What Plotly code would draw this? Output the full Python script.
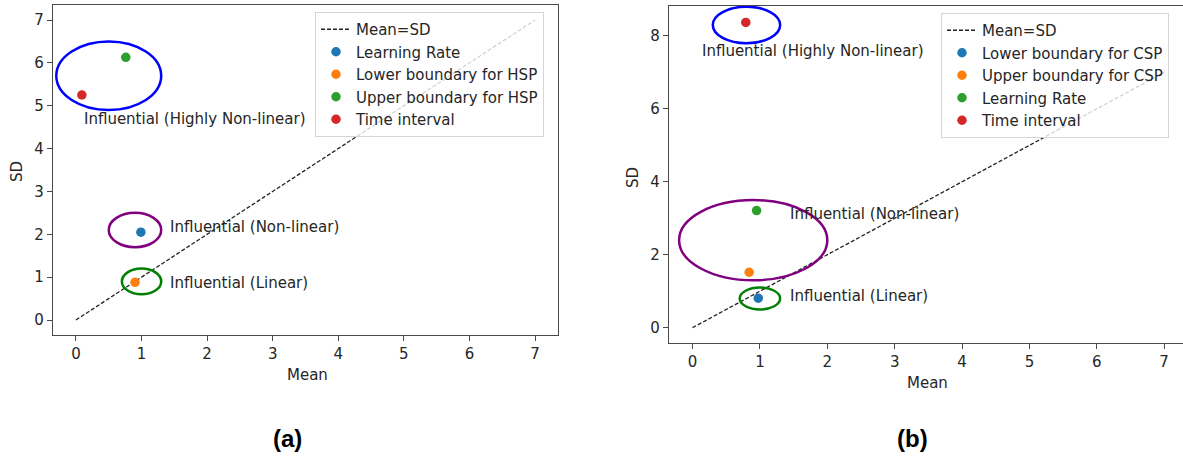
import plotly.graph_objects as go

# ---------------- data ----------------
a_series = ["Learning Rate", "Lower boundary for HSP", "Upper boundary for HSP", "Time interval"]
a_mean = [0.99, 0.90, 0.76, 0.09]
a_sd = [2.05, 0.88, 6.13, 5.25]

b_series = ["Lower boundary for CSP", "Upper boundary for CSP", "Learning Rate", "Time interval"]
b_mean = [0.975, 0.84, 0.95, 0.79]
b_sd = [0.81, 1.52, 3.21, 8.37]

series_colors = ["#1f77b4", "#ff7f0e", "#2ca02c", "#d62728"]

ref_line = [0, 7]  # Mean = SD line

# groupings (center x, center y, width, height)
a_groups_cx = [0.5, 0.9, 1.0]
a_groups_cy = [5.7, 2.1, 0.9]
a_groups_w = [1.6, 0.8, 0.6]
a_groups_h = [1.6, 0.8, 0.6]
b_groups_cx = [0.8, 0.9, 1.0]
b_groups_cy = [8.3, 2.4, 0.8]
b_groups_w = [1.0, 2.2, 0.6]
b_groups_h = [1.0, 2.2, 0.6]
group_colors = ["blue", "purple", "green"]

group_labels = ["Influential (Highly Non-linear)", "Influential (Non-linear)", "Influential (Linear)"]
a_label_x = [0.095, 1.41, 1.41]
a_label_y = [4.68, 2.16, 0.86]
b_label_x = [0.11, 1.41, 1.41]
b_label_y = [7.6, 3.11, 0.87]

FONT = "DejaVu Sans"
TXT = "#262626"
FS = 15

fig = go.Figure()

# ---- panel (a) ----
fig.add_trace(go.Scatter(x=ref_line, y=ref_line, mode="lines", name="Mean=SD",
                         line=dict(color="#222222", width=1.3, dash="4px,2px"),
                         xaxis="x", yaxis="y", legend="legend", legendgroup="a0"))
for i, (n, m, s) in enumerate(zip(a_series, a_mean, a_sd)):
    fig.add_trace(go.Scatter(x=[m], y=[s], mode="markers", name=n,
                             marker=dict(color=series_colors[i], size=9.5),
                             xaxis="x", yaxis="y", legend="legend", legendgroup="a%d" % (i + 1)))

# ---- panel (b) ----
fig.add_trace(go.Scatter(x=ref_line, y=ref_line, mode="lines", name="Mean=SD",
                         line=dict(color="#222222", width=1.3, dash="4px,2px"),
                         xaxis="x2", yaxis="y2", legend="legend2", legendgroup="b0"))
for i, (n, m, s) in enumerate(zip(b_series, b_mean, b_sd)):
    fig.add_trace(go.Scatter(x=[m], y=[s], mode="markers", name=n,
                             marker=dict(color=series_colors[i], size=9.5),
                             xaxis="x2", yaxis="y2", legend="legend2", legendgroup="b%d" % (i + 1)))

shapes = []
for cx, cy, w, h, c in zip(a_groups_cx, a_groups_cy, a_groups_w, a_groups_h, group_colors):
    shapes.append(dict(type="circle", xref="x", yref="y", x0=cx - w / 2, x1=cx + w / 2,
                       y0=cy - h / 2, y1=cy + h / 2, line=dict(color=c, width=2.5)))
for cx, cy, w, h, c in zip(b_groups_cx, b_groups_cy, b_groups_w, b_groups_h, group_colors):
    shapes.append(dict(type="circle", xref="x2", yref="y2", x0=cx - w / 2, x1=cx + w / 2,
                       y0=cy - h / 2, y1=cy + h / 2, line=dict(color=c, width=2.5)))

annotations = []
for t, x, y in zip(group_labels, a_label_x, a_label_y):
    annotations.append(dict(text=t, x=x, y=y, xref="x", yref="y", xanchor="left", yanchor="middle",
                            showarrow=False, font=dict(family=FONT, size=FS, color=TXT)))
for t, x, y in zip(group_labels, b_label_x, b_label_y):
    annotations.append(dict(text=t, x=x, y=y, xref="x2", yref="y2", xanchor="left", yanchor="middle",
                            showarrow=False, font=dict(family=FONT, size=FS, color=TXT)))

W, H = 1183, 456


def px(xp):
    return xp / W


def py(yp):
    return 1 - yp / H


# axis titles & panel labels
for t, x, y, ang in [("Mean", 307, 375, 0), ("SD", 17, 172, -90),
                     ("Mean", 928, 383, 0), ("SD", 633, 178, -90)]:
    annotations.append(dict(text=t, x=px(x), y=py(y), xref="paper", yref="paper",
                            xanchor="center", yanchor="middle", textangle=ang, showarrow=False,
                            font=dict(family=FONT, size=FS, color=TXT)))
for t, x in [("(a)", 287), ("(b)", 912)]:
    annotations.append(dict(text="<b>%s</b>" % t, x=px(x), y=py(438), xref="paper", yref="paper",
                            xanchor="center", yanchor="middle", showarrow=False,
                            font=dict(family="Liberation Sans", size=24, color="black")))

axis_common = dict(showgrid=False, zeroline=False, showline=True, linecolor="#4a4a4a", linewidth=1.4,
                   ticks="outside", ticklen=5, tickcolor="#4a4a4a", tickwidth=1,
                   tickfont=dict(family=FONT, size=FS, color=TXT))

legend_common = dict(xanchor="left", yanchor="top", bgcolor="rgba(255,255,255,0.8)",
                     bordercolor="#d5d5d5", borderwidth=1, traceorder="grouped", tracegroupgap=0,
                     font=dict(family=FONT, size=FS, color=TXT))

fig.update_layout(
    width=W, height=H, margin=dict(l=0, r=0, t=0, b=0),
    paper_bgcolor="white", plot_bgcolor="white",
    xaxis=dict(domain=[px(53), px(558)], range=[-0.35, 7.35], dtick=1, anchor="y", mirror=True, **axis_common),
    yaxis=dict(domain=[py(335), py(5)], range=[-0.35, 7.35], dtick=1, anchor="x", mirror=True, **axis_common),
    xaxis2=dict(domain=[px(669), 1.0], range=[-0.35, 7.28], dtick=1, anchor="y2", mirror=True, **axis_common),
    yaxis2=dict(domain=[py(343), py(6)], range=[-0.42, 8.82], dtick=2, anchor="x2", mirror=False, **axis_common),
    legend=dict(x=px(315), y=py(12), **legend_common),
    legend2=dict(x=px(941), y=py(13), **legend_common),
    shapes=shapes,
    annotations=annotations,
)

fig.write_html("out.html")
